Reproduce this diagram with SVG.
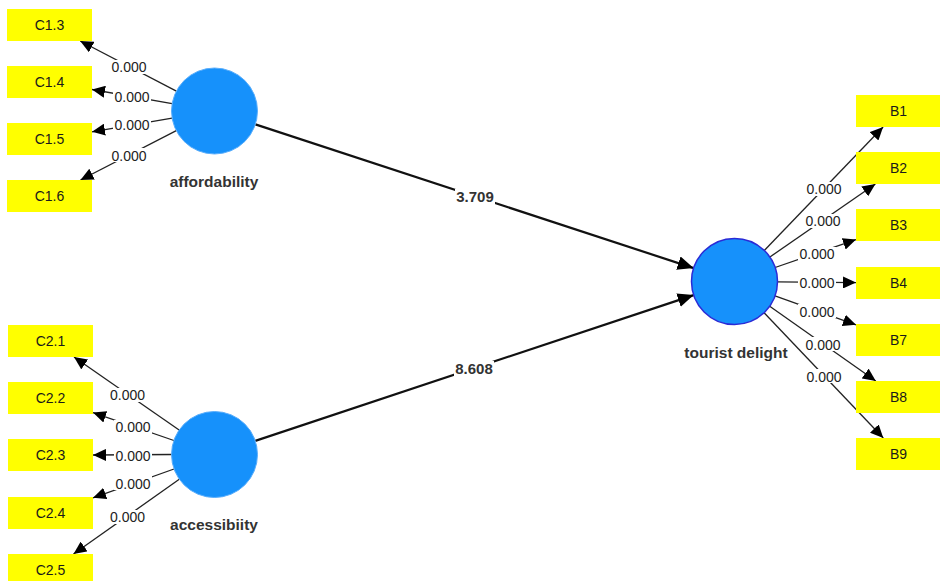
<svg xmlns="http://www.w3.org/2000/svg" width="940" height="581" viewBox="0 0 940 581">
<style>
.bg{fill:#ffffff}
.box{fill:#ffff00}
.btxt{font-family:"Liberation Sans",Arial,sans-serif;font-size:14px;fill:#1a1a1a;text-anchor:middle;dominant-baseline:central}
.lv{fill:#1691fb;stroke:#5aaefc;stroke-width:1}
.lv2{fill:#1691fb;stroke:#2a2ad6;stroke-width:1.5}
.name{font-family:"Liberation Sans",Arial,sans-serif;font-size:15.5px;font-weight:bold;fill:#333333;text-anchor:middle;dominant-baseline:central}
.ol{stroke:#222222;stroke-width:1.3;fill:none;marker-end:url(#sa)}
.sl{stroke:#111111;stroke-width:2.2;fill:none;marker-end:url(#la)}
.lb{fill:#ffffff}
.ltxt{font-family:"Liberation Sans",Arial,sans-serif;font-size:14px;fill:#222222;text-anchor:middle;dominant-baseline:central}
.stxt{font-family:"Liberation Sans",Arial,sans-serif;font-size:15px;font-weight:bold;fill:#333333;text-anchor:middle;dominant-baseline:central}
</style>
<defs>
<marker id="sa" markerUnits="userSpaceOnUse" markerWidth="14" markerHeight="12" refX="13" refY="6" orient="auto">
<path d="M0,0 L13,6 L0,12 z" fill="#000"/>
</marker>
<marker id="la" markerUnits="userSpaceOnUse" markerWidth="17" markerHeight="14" refX="16" refY="7" orient="auto">
<path d="M0,0 L16,7 L0,14 z" fill="#000"/>
</marker>
</defs>
<rect class="bg" x="0" y="0" width="940" height="581"/>

<g id="connectors">
<line class="ol" x1="176.4" y1="91.1" x2="80.2" y2="41"/>
<line class="ol" x1="172.1" y1="103.6" x2="92" y2="89.5"/>
<line class="ol" x1="172.1" y1="118.2" x2="92" y2="131.8"/>
<line class="ol" x1="176.3" y1="130.7" x2="80.5" y2="180"/>
<line class="ol" x1="179.1" y1="430" x2="74" y2="357"/>
<line class="ol" x1="173.9" y1="440.5" x2="93" y2="412.6"/>
<line class="ol" x1="171.5" y1="454.5" x2="93" y2="455"/>
<line class="ol" x1="174" y1="469" x2="93" y2="497.8"/>
<line class="ol" x1="179.3" y1="479.3" x2="73.5" y2="554"/>
<line class="ol" x1="764.3" y1="250.5" x2="883.1" y2="127"/>
<line class="ol" x1="769.9" y1="257" x2="875.4" y2="184"/>
<line class="ol" x1="775.1" y1="267.5" x2="856" y2="239.6"/>
<line class="ol" x1="777.5" y1="281.9" x2="856" y2="282.6"/>
<line class="ol" x1="775" y1="295.9" x2="856" y2="324.8"/>
<line class="ol" x1="769.7" y1="306.3" x2="875.8" y2="381"/>
<line class="ol" x1="764.1" y1="312.7" x2="883.3" y2="438"/>
<line class="sl" x1="255.4" y1="124.4" x2="693.6" y2="268.1"/>
<line class="sl" x1="255.3" y1="440.9" x2="693.7" y2="295.1"/>

<rect class="lb" x="110" y="60" width="38" height="14"/><text class="ltxt" x="129" y="67">0.000</text>
<rect class="lb" x="113" y="90" width="38" height="14"/><text class="ltxt" x="132" y="97">0.000</text>
<rect class="lb" x="113" y="118" width="38" height="14"/><text class="ltxt" x="132" y="125">0.000</text>
<rect class="lb" x="110" y="148" width="38" height="14"/><text class="ltxt" x="129" y="155.5">0.000</text>
<rect class="lb" x="108" y="388" width="38" height="14"/><text class="ltxt" x="127.5" y="395">0.000</text>
<rect class="lb" x="114" y="420" width="38" height="14"/><text class="ltxt" x="133" y="427">0.000</text>
<rect class="lb" x="114" y="448" width="38" height="14"/><text class="ltxt" x="133" y="455.5">0.000</text>
<rect class="lb" x="114" y="476" width="38" height="14"/><text class="ltxt" x="133" y="483.5">0.000</text>
<rect class="lb" x="108" y="510" width="38" height="14"/><text class="ltxt" x="127.5" y="517">0.000</text>
<rect class="lb" x="805" y="182" width="38" height="14"/><text class="ltxt" x="824" y="189">0.000</text>
<rect class="lb" x="804" y="214" width="38" height="14"/><text class="ltxt" x="823" y="221">0.000</text>
<rect class="lb" x="798" y="247" width="38" height="14"/><text class="ltxt" x="817" y="254">0.000</text>
<rect class="lb" x="798" y="276" width="38" height="14"/><text class="ltxt" x="817" y="283">0.000</text>
<rect class="lb" x="798" y="304" width="38" height="14"/><text class="ltxt" x="817" y="311.5">0.000</text>
<rect class="lb" x="804" y="337" width="38" height="14"/><text class="ltxt" x="823" y="344.5">0.000</text>
<rect class="lb" x="805" y="369" width="38" height="14"/><text class="ltxt" x="824" y="376.5">0.000</text>

<rect class="lb" x="455" y="189" width="40" height="15"/><text class="stxt" x="475" y="196.5">3.709</text>
<rect class="lb" x="454" y="361" width="40" height="15"/><text class="stxt" x="474" y="368.5">8.608</text>
</g>

<g id="affordability"><circle class="lv" cx="214.5" cy="111" r="43"/><text class="name" x="214" y="181.5">affordability</text></g>
<g id="accessibiity"><circle class="lv" cx="214.5" cy="454.5" r="43"/><text class="name" x="214" y="524.5">accessibiity</text></g>
<g id="tourist-delight"><circle class="lv2" cx="734.5" cy="281.5" r="43"/><text class="name" x="736" y="352.5">tourist delight</text></g>

<g id="C1.3"><rect class="box" x="7" y="9" width="85" height="32"/><text class="btxt" x="49.5" y="25">C1.3</text></g>
<g id="C1.4"><rect class="box" x="7" y="66" width="85" height="32"/><text class="btxt" x="49.5" y="82">C1.4</text></g>
<g id="C1.5"><rect class="box" x="7" y="123" width="85" height="32"/><text class="btxt" x="49.5" y="139">C1.5</text></g>
<g id="C1.6"><rect class="box" x="7" y="180" width="85" height="32"/><text class="btxt" x="49.5" y="196">C1.6</text></g>

<g id="C2.1"><rect class="box" x="8" y="325" width="85" height="32"/><text class="btxt" x="50.5" y="341">C2.1</text></g>
<g id="C2.2"><rect class="box" x="8" y="382" width="85" height="32"/><text class="btxt" x="50.5" y="398">C2.2</text></g>
<g id="C2.3"><rect class="box" x="8" y="439" width="85" height="32"/><text class="btxt" x="50.5" y="455">C2.3</text></g>
<g id="C2.4"><rect class="box" x="8" y="497" width="85" height="32"/><text class="btxt" x="50.5" y="513">C2.4</text></g>
<g id="C2.5"><rect class="box" x="8" y="554" width="85" height="32"/><text class="btxt" x="50.5" y="570">C2.5</text></g>

<g id="B1"><rect class="box" x="856" y="95" width="85" height="32"/><text class="btxt" x="898.5" y="111">B1</text></g>
<g id="B2"><rect class="box" x="856" y="152" width="85" height="32"/><text class="btxt" x="898.5" y="168">B2</text></g>
<g id="B3"><rect class="box" x="856" y="209" width="85" height="32"/><text class="btxt" x="898.5" y="225">B3</text></g>
<g id="B4"><rect class="box" x="856" y="267" width="85" height="32"/><text class="btxt" x="898.5" y="283">B4</text></g>
<g id="B7"><rect class="box" x="856" y="324" width="85" height="32"/><text class="btxt" x="898.5" y="340">B7</text></g>
<g id="B8"><rect class="box" x="856" y="381" width="85" height="32"/><text class="btxt" x="898.5" y="397">B8</text></g>
<g id="B9"><rect class="box" x="856" y="438" width="85" height="32"/><text class="btxt" x="898.5" y="454">B9</text></g>
</svg>
